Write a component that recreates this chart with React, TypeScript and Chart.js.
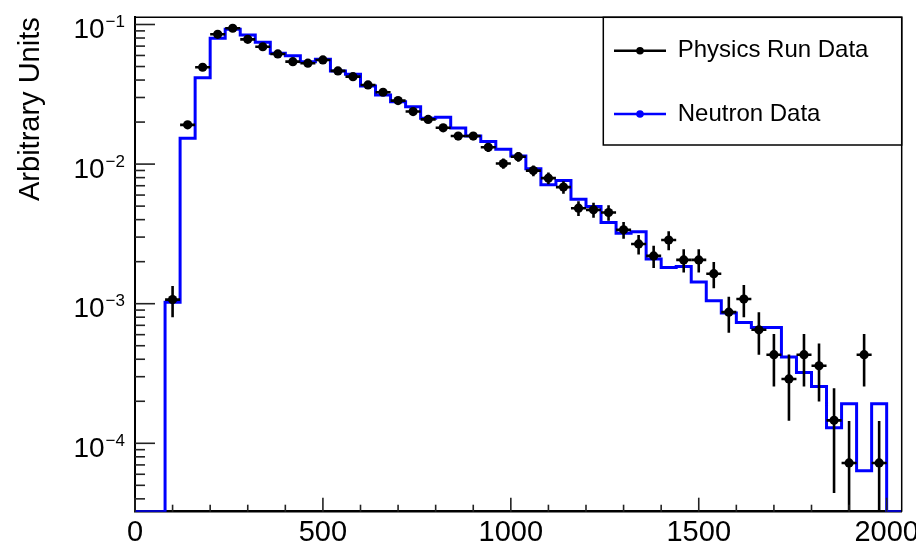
import { useEffect, useRef } from 'react';
import { Chart, registerables } from 'chart.js';

Chart.register(...registerables);

const FONT = '"Liberation Sans", Arial, Helvetica, sans-serif';

// Shared binning (lower bin edges, width 40)
const BIN_WIDTH = 40;
const X_MIN = 0;
const X_MAX = 2040;
const Y_MIN = 3.236e-5;
const Y_MAX = 0.1126;

const binLow = [
  80, 120, 160, 200, 240, 280, 320, 360, 400, 440, 480, 520, 560, 600, 640, 680,
  720, 760, 800, 840, 880, 920, 960, 1000, 1040, 1080, 1120, 1160, 1200, 1240, 1280, 1320,
  1360, 1400, 1440, 1480, 1520, 1560, 1600, 1640, 1680, 1720, 1760, 1800, 1840, 1880, 1920, 1960,
];

// Physics Run Data (points with errors)
const physicsY = [
  0.00107, 0.0191, 0.0494, 0.0851, 0.094, 0.0783, 0.0693, 0.0615, 0.0542, 0.0528, 0.0557, 0.0465,
  0.0423, 0.0369, 0.0327, 0.0285, 0.0238, 0.0209, 0.0182, 0.0159, 0.0159, 0.0132, 0.0101, 0.0113,
  0.00898, 0.00793, 0.00684, 0.00483, 0.0047, 0.0045, 0.00338, 0.00268, 0.0022, 0.00286, 0.00206, 0.00206,
  0.00164, 0.00087, 0.00108, 0.00065, 0.000431, 0.000289, 0.000431, 0.000359, 0.000146, 0.0000723, 0.000431, 0.0000723,
];

const physicsErr = [
  0.00027, 0.0012, 0.0019, 0.0025, 0.0026, 0.0024, 0.0022, 0.0021, 0.002, 0.0019, 0.002, 0.0018,
  0.0017, 0.0016, 0.0015, 0.0014, 0.0013, 0.0012, 0.0011, 0.0011, 0.0011, 0.00097, 0.00085, 0.0009,
  0.0008, 0.00076, 0.0007, 0.00059, 0.00058, 0.00057, 0.00046, 0.00043, 0.0004, 0.00045, 0.00039, 0.00039,
  0.00035, 0.00025, 0.00028, 0.00022, 0.000176, 0.000144, 0.000176, 0.00016, 0.000102, 0.0000723, 0.000176, 0.0000723,
];

// Neutron Data (histogram)
const neutronY = [
  0.001026, 0.0153, 0.0416, 0.0796, 0.0924, 0.084, 0.0746, 0.0622, 0.0598, 0.0542, 0.0563, 0.0465,
  0.044, 0.0363, 0.0313, 0.028, 0.0258, 0.0213, 0.0217, 0.0181, 0.0159, 0.0145, 0.0128, 0.01145,
  0.00925, 0.0071, 0.00762, 0.00561, 0.00496, 0.00381, 0.0032, 0.00328, 0.00209, 0.00182, 0.00185, 0.00143,
  0.00105, 0.000857, 0.000733, 0.000676, 0.000676, 0.000415, 0.000322, 0.000255, 0.000129, 0.000192, 0.0000637, 0.000192,
];

const xLabelTicks = [0, 500, 1000, 1500, 2000];
const yMajorTicks = [1e-4, 1e-3, 1e-2, 1e-1];

const seriesLabels = ['Physics Run Data', 'Neutron Data'];
const seriesColors = ['#000000', '#0000ff'];

const rootPlugin = {
  id: 'rootStyle',
  afterDatasetsDraw(chart: any) {
    const { ctx, chartArea: a, scales } = chart;
    const x = scales.x;
    const y = scales.y;
    ctx.save();
    ctx.beginPath();
    ctx.rect(a.left, a.top, a.right - a.left, a.bottom - a.top);
    ctx.clip();
    ctx.strokeStyle = '#000';
    ctx.lineWidth = 2.6;
    binLow.forEach((lo, i) => {
      const v = physicsY[i];
      const e = physicsErr[i];
      const xc = x.getPixelForValue(lo + BIN_WIDTH / 2);
      const x0 = x.getPixelForValue(lo);
      const x1 = x.getPixelForValue(lo + BIN_WIDTH);
      const yc = y.getPixelForValue(v);
      const yt = y.getPixelForValue(v + e);
      const yb = v - e > 0 ? y.getPixelForValue(v - e) : a.bottom + 10;
      ctx.beginPath();
      ctx.moveTo(x0, yc);
      ctx.lineTo(x1, yc);
      ctx.moveTo(xc, yt);
      ctx.lineTo(xc, yb);
      ctx.stroke();
    });
    ctx.restore();
  },
  afterDraw(chart: any) {
    const { ctx, chartArea: a, scales } = chart;
    const x = scales.x;
    const y = scales.y;
    ctx.save();

    // frame (top / right)
    ctx.strokeStyle = '#000';
    ctx.lineWidth = 1.5;
    ctx.beginPath();
    ctx.moveTo(a.left, a.top);
    ctx.lineTo(a.right, a.top);
    ctx.lineTo(a.right, a.bottom);
    ctx.stroke();

    // x tick marks (inward)
    ctx.strokeStyle = '#222';
    ctx.lineWidth = 1.6;
    x.ticks.forEach((t: any) => {
      if (t.value % 100 !== 0) return;
      const px = x.getPixelForValue(t.value);
      const len = t.value % 500 === 0 ? 14 : 7;
      ctx.beginPath();
      ctx.moveTo(px, a.bottom);
      ctx.lineTo(px, a.bottom - len);
      ctx.stroke();
    });

    // y tick marks (inward), decade majors + minors
    const lo = Math.floor(Math.log10(y.min));
    const hi = Math.ceil(Math.log10(y.max));
    for (let e = lo; e <= hi; e++) {
      for (let m = 1; m <= 9; m++) {
        const v = m * Math.pow(10, e);
        if (v < y.min || v > y.max) continue;
        const py = y.getPixelForValue(v);
        const len = m === 1 ? 20 : 10;
        ctx.beginPath();
        ctx.moveTo(a.left, py);
        ctx.lineTo(a.left + len, py);
        ctx.stroke();
      }
    }

    // y labels 10^n
    ctx.fillStyle = '#000';
    ctx.textAlign = 'left';
    ctx.textBaseline = 'alphabetic';
    yMajorTicks.forEach((v) => {
      const py = y.getPixelForValue(v);
      const ex = Math.round(Math.log10(v));
      const expText = (ex < 0 ? '\u2212' : '') + Math.abs(ex);
      ctx.font = `17px ${FONT}`;
      const ew = ctx.measureText(expText).width;
      ctx.font = `28px ${FONT}`;
      const bw = ctx.measureText('10').width;
      const right = a.left - 10;
      ctx.fillText('10', right - ew - bw - 1, py + 13.8);
      ctx.font = `17px ${FONT}`;
      ctx.fillText(expText, right - ew, py + 2.5);
    });

    // legend box
    const lx0 = 603.3;
    const ly1 = 145;
    ctx.fillStyle = '#fff';
    ctx.fillRect(lx0, a.top, a.right - lx0, ly1 - a.top);
    ctx.strokeStyle = '#000';
    ctx.lineWidth = 1.5;
    ctx.strokeRect(lx0, a.top, a.right - lx0, ly1 - a.top);
    const rows = [50.7, 114];
    seriesLabels.forEach((label, i) => {
      const ry = rows[i];
      ctx.strokeStyle = seriesColors[i];
      ctx.fillStyle = seriesColors[i];
      ctx.lineWidth = 2.5;
      ctx.beginPath();
      ctx.moveTo(614, ry);
      ctx.lineTo(666, ry);
      ctx.stroke();
      ctx.beginPath();
      ctx.arc(640, ry, 3.8, 0, Math.PI * 2);
      ctx.fill();
      ctx.fillStyle = '#000';
      ctx.font = `24px ${FONT}`;
      ctx.textBaseline = 'middle';
      ctx.fillText(label, 677.7, ry);
    });
    ctx.restore();
  },
};

export default function App() {
  const ref = useRef<HTMLCanvasElement>(null);
  useEffect(() => {
    document.body.style.margin = '0';
    const physicsData = binLow.map((lo, i) => ({ x: lo + BIN_WIDTH / 2, y: physicsY[i] }));
    const lastEdge = binLow[binLow.length - 1] + BIN_WIDTH;
    const neutronData = [
      { x: X_MIN, y: Y_MIN },
      ...binLow.map((lo, i) => ({ x: lo, y: Math.max(neutronY[i], Y_MIN) })),
      { x: lastEdge, y: Y_MIN },
      { x: X_MAX, y: Y_MIN },
    ];
    const chart = new Chart(ref.current as HTMLCanvasElement, {
      type: 'scatter',
      data: {
        datasets: [
          {
            label: seriesLabels[0],
            data: physicsData,
            showLine: false,
            pointRadius: 4.6,
            pointBackgroundColor: seriesColors[0],
            pointBorderWidth: 0,
            borderColor: seriesColors[0],
            order: 0,
          },
          {
            label: seriesLabels[1],
            data: neutronData,
            showLine: true,
            stepped: true,
            pointRadius: 0,
            borderColor: seriesColors[1],
            borderWidth: 3,
            fill: false,
            order: 1,
          } as any,
        ],
      },
      options: {
        animation: false,
        responsive: false,
        devicePixelRatio: 1,
        events: [],
        layout: { padding: { top: 17.3, right: 14.3, bottom: 0, left: 0 } },
        plugins: { legend: { display: false }, tooltip: { enabled: false } },
        scales: {
          x: {
            type: 'linear',
            min: X_MIN,
            max: X_MAX,
            afterFit: (s: any) => {
              s.height = 30.3;
              s.paddingLeft = 0;
              s.paddingRight = 0;
            },
            grid: { display: false, drawTicks: false },
            border: { display: true, color: '#000', width: 2.5 },
            ticks: {
              stepSize: 100,
              includeBounds: false,
              autoSkip: false,
              maxRotation: 0,
              minRotation: 0,
              padding: 3.5,
              color: '#000',
              font: { family: FONT, size: 29 },
              callback: (v: any) => (xLabelTicks.includes(Number(v)) ? String(v) : ''),
            },
          },
          y: {
            type: 'logarithmic',
            min: Y_MIN,
            max: Y_MAX,
            afterFit: (s: any) => {
              s.width = 135;
            },
            grid: { display: false, drawTicks: false },
            border: { display: true, color: '#000', width: 2 },
            ticks: { display: false },
            title: {
              display: true,
              text: 'Arbitrary Units',
              align: 'end',
              color: '#000',
              font: { family: FONT, size: 29 },
              padding: { top: 13.6, bottom: 0 },
            },
          },
        },
      },
      plugins: [rootPlugin],
    });
    return () => chart.destroy();
  }, []);
  return (
    <div style={{ position: 'fixed', left: 0, top: 0, width: 916, height: 542, background: '#fff' }}>
      <canvas ref={ref} width={916} height={542} style={{ display: 'block', width: 916, height: 542 }} />
    </div>
  );
}
